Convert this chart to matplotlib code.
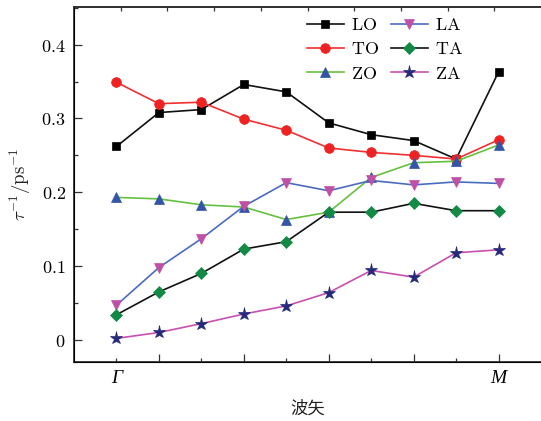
import matplotlib
matplotlib.use("Agg")
import matplotlib.pyplot as plt
from matplotlib.ticker import FixedLocator, MultipleLocator

plt.rcParams['mathtext.fontset'] = 'cm'
plt.rcParams['font.family'] = ['DejaVu Serif']

x = [0, 1, 2, 3, 4, 5, 6, 7, 8, 9]
LO = [0.262, 0.308, 0.312, 0.346, 0.336, 0.294, 0.278, 0.270, 0.245, 0.363]
TO = [0.349, 0.320, 0.322, 0.299, 0.284, 0.260, 0.254, 0.250, 0.245, 0.271]
ZO = [0.193, 0.191, 0.183, 0.180, 0.163, 0.173, 0.220, 0.240, 0.242, 0.264]
LA = [0.047, 0.098, 0.137, 0.181, 0.213, 0.202, 0.216, 0.210, 0.214, 0.212]
TA = [0.034, 0.065, 0.090, 0.123, 0.133, 0.173, 0.173, 0.185, 0.175, 0.175]
ZA = [0.002, 0.010, 0.022, 0.035, 0.046, 0.064, 0.094, 0.085, 0.118, 0.122]

ytick_vals = [0, 0.1, 0.2, 0.3, 0.4]
ytick_labels = ['$0$', '$0.1$', '$0.2$', '$0.3$', '$0.4$']

fig = plt.figure(figsize=(5.41, 4.21), dpi=100)
ax = fig.add_axes([74/541, 59/421, 1 - 74/541, 355/421])

series = [
    ('LO', LO, '#111111', 's', '#000000', 6.0),
    ('TO', TO, '#f03030', 'o', '#ee2222', 7.0),
    ('ZO', ZO, '#66c040', '^', '#3355a5', 7.5),
    ('LA', LA, '#4a6cc0', 'v', '#c050a5', 7.5),
    ('TA', TA, '#111111', 'D', '#128a45', 6.0),
    ('ZA', ZA, '#c850b0', '*', '#25297a', 9.5),
]
handles = {}
for name, y, lc, m, mc, ms in series:
    h, = ax.plot(x, y, color=lc, lw=1.2, marker=m, markersize=ms,
                 markerfacecolor=mc, markeredgecolor=mc, markeredgewidth=0.5,
                 label=r'$\mathrm{%s}$' % name)
    handles[name] = h

ax.set_xlim(-1, 10)
ax.set_ylim(-0.03, 0.451)

ax.xaxis.set_major_locator(FixedLocator([1, 3, 5, 7, 9]))
ax.xaxis.set_minor_locator(FixedLocator([0, 2, 4, 6, 8]))
ax.set_xticklabels(['', '', '', '', 'M'])
ax.set_xticklabels(['Γ', '', '', '', ''], minor=True)
for t in ax.get_xticklabels(which='both'):
    t.set_fontfamily('Liberation Serif')
    t.set_fontstyle('italic')
    t.set_fontsize(14)

ax.set_yticks(ytick_vals)
ax.set_yticklabels(ytick_labels, fontsize=13)
ax.yaxis.set_minor_locator(MultipleLocator(0.05))

ax.tick_params(axis='both', which='major', direction='in', length=5.5, width=0.9, color='#333333')
ax.tick_params(axis='both', which='minor', direction='in', length=2.8, width=0.9, color='#333333')
ax.tick_params(axis='x', which='both', pad=6)
ax.tick_params(axis='y', which='both', pad=6)

for s in ['left', 'bottom', 'top']:
    ax.spines[s].set_linewidth(1.3)
    ax.spines[s].set_color('#333333')
ax.spines['right'].set_visible(False)

# top tick marks
ax2 = ax.twiny()
ax2.set_xlim(0, 1)
ax2.set_xticks([i / 10 for i in range(1, 10)])
ax2.set_xticklabels([])
ax2.tick_params(axis='x', which='major', direction='in', length=2.8, width=0.9, color='#333333')
ax2.spines['right'].set_visible(False)
ax2.spines['top'].set_linewidth(1.3)
ax2.spines['top'].set_color('#333333')

ax.set_ylabel(r'$\tau^{-1}/\mathrm{ps}^{-1}$', fontsize=13.5, labelpad=6, color='#222222')
ax.set_xlabel('波矢', fontsize=12.5, family=['Noto Sans CJK SC'], labelpad=9, color='#222222')

order = ['LO', 'TO', 'ZO', 'LA', 'TA', 'ZA']
leg = ax.legend([handles[n] for n in order], [r'$\mathrm{%s}$' % n for n in order],
                ncol=2, frameon=False, fontsize=13, loc='upper left',
                bbox_to_anchor=(0.465, 1.02), handlelength=2.0, handletextpad=0.4,
                columnspacing=0.7, labelspacing=0.35)

fig.savefig('out.png', dpi=100)
